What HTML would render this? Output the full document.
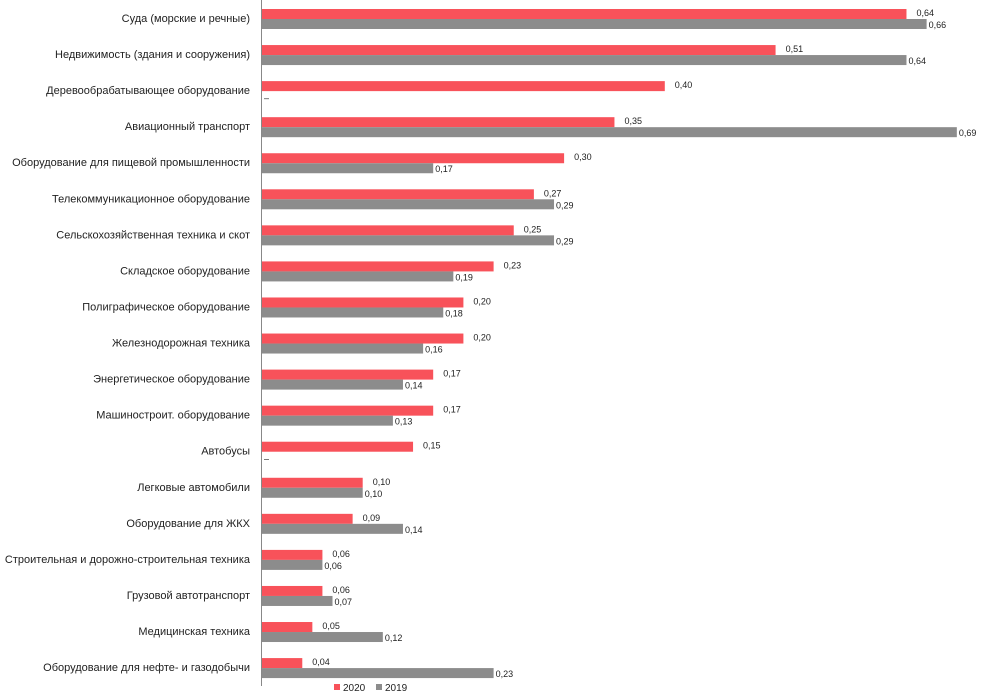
<!DOCTYPE html>
<html><head><meta charset="utf-8"><style>
body{margin:0;background:#fff;font-family:"Liberation Sans",sans-serif;}
svg{display:block}
</style></head><body>
<svg id="c" width="996" height="699"></svg>
<script>
const categories=["Суда (морские и речные)","Недвижимость (здания и сооружения)","Деревообрабатывающее оборудование","Авиационный транспорт","Оборудование для пищевой промышленности","Телекоммуникационное оборудование","Сельскохозяйственная техника и скот","Складское оборудование","Полиграфическое оборудование","Железнодорожная техника","Энергетическое оборудование","Машиностроит. оборудование","Автобусы","Легковые автомобили","Оборудование для ЖКХ","Строительная и дорожно-строительная техника","Грузовой автотранспорт","Медицинская техника","Оборудование для нефте- и газодобычи"];
const values2020=[0.64,0.51,0.40,0.35,0.30,0.27,0.25,0.23,0.20,0.20,0.17,0.17,0.15,0.10,0.09,0.06,0.06,0.05,0.04];
const values2019=[0.66,0.64,null,0.69,0.17,0.29,0.29,0.19,0.18,0.16,0.14,0.13,null,0.10,0.14,0.06,0.07,0.12,0.23];
const seriesNames=["2020","2019"];
const NS="http://www.w3.org/2000/svg";
const svg=document.getElementById('c');
const x0=262, scale=1007, top0=9, pitch=36.06, bh=10;
const xs=v=>x0+v*scale;
const ys=i=>top0+i*pitch;
function mk(t,a){const e=document.createElementNS(NS,t);for(const k in a)e.setAttribute(k,a[k]);svg.appendChild(e);return e;}
const fmt=v=>v.toFixed(2).replace('.',',');
categories.forEach((c,i)=>{
  const y=ys(i);
  const t=mk('text',{x:250,y:y+13,'text-anchor':'end','font-size':'11px',fill:'#222'});
  t.textContent=c;
  
  
  const v1=values2020[i];
  const r=mk('rect',{x:x0,y:y,width:xs(v1)-x0,height:bh,fill:'#f8525a'});
  
  
  const l1=mk('text',{x:xs(v1)+10,y:y+7,'font-size':'9px',fill:'#222'});
  l1.textContent=fmt(v1);
  
  
  const v2=values2019[i];
  if(v2==null){
    const d=mk('text',{x:x0+2,y:y+20,'font-size':'9px',fill:'#222'});
    d.textContent='–';
    
    
  } else {
    const g=mk('rect',{x:x0,y:y+bh,width:xs(v2)-x0,height:bh,fill:'#8c8c8c'});
    
    
    const l2=mk('text',{x:xs(v2)+2,y:y+19,'font-size':'9px',fill:'#222'});
    l2.textContent=fmt(v2);
    
    
  }
});
const ax=mk('line',{x1:x0-0.5,y1:0,x2:x0-0.5,y2:686,stroke:'#888','stroke-width':1});


const cols=['#f8525a','#8c8c8c'];const lx=[334,376];
seriesNames.forEach((n,k)=>{
  const s=mk('rect',{x:lx[k],y:684,width:6,height:6,fill:cols[k]});
  
  
  const t=mk('text',{x:lx[k]+9,y:691,'font-size':'10px',fill:'#222'});
  t.textContent=n;
  
  
});
</script>
</body></html>
